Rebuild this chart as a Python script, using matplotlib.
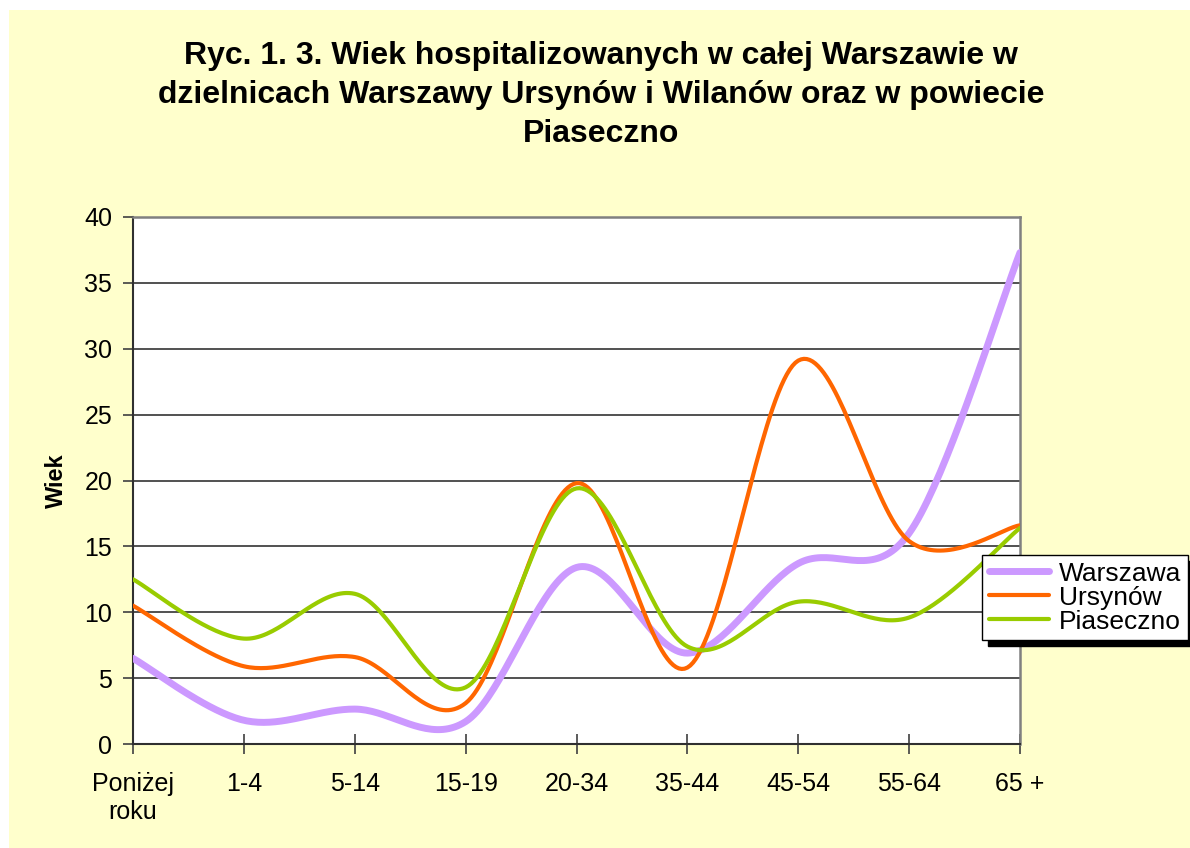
import matplotlib
matplotlib.use("Agg")
import matplotlib.pyplot as plt
import numpy as np

plt.rcParams["font.family"] = ["Liberation Sans", "DejaVu Sans"]

# dane
CATEGORIES = ["Poniżej\nroku", "1-4", "5-14", "15-19", "20-34",
              "35-44", "45-54", "55-64", "65 +"]
WARSZAWA   = [6.5, 1.8, 2.65, 1.7, 13.4, 6.9, 13.7, 16.0, 37.3]
URSYNOW    = [10.5, 5.9, 6.6, 3.1, 19.8, 5.8, 29.1, 15.4, 16.6]
PIASECZNO  = [12.5, 8.0, 11.4, 4.3, 19.4, 7.4, 10.8, 9.6, 16.4]

SERIES = [
    ("Warszawa",  WARSZAWA,  "#CC99FF", 5.0),
    ("Ursynów",   URSYNOW,   "#FF6600", 3.0),
    ("Piaseczno", PIASECZNO, "#99CC00", 3.0),
]

TITLE = ("Ryc. 1. 3. Wiek hospitalizowanych w całej Warszawie w\n"
         "dzielnicach Warszawy Ursynów i Wilanów oraz w powiecie\n"
         "Piaseczno")


def smooth(xs, ys, steps=40):
    """Wygładzanie jak w Excelu (Bezier z punktami kontrolnymi Catmull-Rom)."""
    pts = np.column_stack([xs, ys]).astype(float)
    n = len(pts)
    out = []
    t = np.linspace(0, 1, steps)[:, None]
    for i in range(n - 1):
        p0 = pts[max(i - 1, 0)]
        p1 = pts[i]
        p2 = pts[i + 1]
        p3 = pts[min(i + 2, n - 1)]
        c1 = p1 + (p2 - p0) / 6.0
        c2 = p2 - (p3 - p1) / 6.0
        seg = ((1 - t) ** 3) * p1 + 3 * ((1 - t) ** 2) * t * c1 \
            + 3 * (1 - t) * t ** 2 * c2 + t ** 3 * p2
        out.append(seg if i == 0 else seg[1:])
    out = np.vstack(out)
    return out[:, 0], out[:, 1]


fig = plt.figure(figsize=(11.9, 8.48), dpi=100)
fig.patch.set_facecolor("white")
fig.patches.append(plt.Rectangle((9 / 1190, 0), 1 - 9 / 1190, 1 - 10 / 848,
                                 transform=fig.transFigure, facecolor="#FFFFCC",
                                 edgecolor="none", zorder=-10))

ax = fig.add_axes([133 / 1190, 104 / 848, 887 / 1190, 527 / 848])
ax.set_facecolor("white")

x = np.arange(len(CATEGORIES))
for name, vals, color, lw in SERIES:
    sx, sy = smooth(x, vals)
    ax.plot(sx, sy, color=color, linewidth=lw, label=name,
            solid_capstyle="round", zorder=3)

ax.set_xlim(0, len(CATEGORIES) - 1)
ax.set_ylim(0, 40)
ax.set_yticks(np.arange(0, 41, 5))
ax.set_xticks(x)
ax.set_xticklabels(CATEGORIES, fontsize=18, linespacing=1.2)
ax.tick_params(axis="y", labelsize=18, direction="out", length=7, width=1.2,
               color="#404040", pad=8)
ax.tick_params(axis="x", direction="inout", length=14, width=1.2,
               color="#404040", pad=13)
ax.grid(axis="y", color="#333333", linewidth=1.2, zorder=1)

for side in ["left", "bottom"]:
    ax.spines[side].set_color("#303030")
    ax.spines[side].set_linewidth(1.5)
for side in ["top", "right"]:
    ax.spines[side].set_color("#808080")
    ax.spines[side].set_linewidth(1.8)

ax.set_ylabel("Wiek", fontsize=17, fontweight="bold", labelpad=12)

fig.text(0.505, 1 - 95 / 848, TITLE, ha="center", va="center",
         fontsize=23, fontweight="bold", linespacing=1.4)

leg = ax.legend(loc="upper left", bbox_to_anchor=(982 / 1190, 293 / 848),
                bbox_transform=fig.transFigure, fontsize=19, frameon=True,
                fancybox=False, edgecolor="black", framealpha=1,
                handlelength=2.3, handletextpad=0.35, labelspacing=0.0,
                borderpad=0.25, borderaxespad=0,
                shadow={"color": "black", "alpha": 1, "ox": 4, "oy": -4})
leg.get_frame().set_linewidth(1.0)

plt.savefig("out.png", dpi=100)
plt.close()
